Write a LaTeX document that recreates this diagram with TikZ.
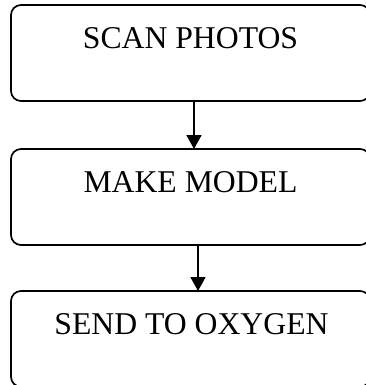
\documentclass[tikz,border=0pt]{standalone}
\usepackage{fontspec}
\setmainfont{Liberation Serif}
\usetikzlibrary{arrows.meta}
\begin{document}
\begin{tikzpicture}[x=1pt,y=-1pt,
  stepbox/.style={draw, line width=1.7pt, rounded corners=10pt, inner sep=0pt, outer sep=0pt,
    minimum width=359pt, minimum height=96pt},
  label text/.style={anchor=base, inner sep=0pt, font=\fontsize{31.7}{38}\selectfont},
  arr/.style={line width=1.7pt, -{Triangle[length=14pt,width=15pt]}}]
\useasboundingbox (0,0) rectangle (366,385);
\clip (0,0) rectangle (366,385);
\node[stepbox] (b1) at (190.5,53) {};
\node[stepbox] (b2) at (190.5,197) {};
\node[stepbox, minimum height=95.8pt] (b3) at (190.5,338.9) {};
\node[label text] (t1) at (190.5,48.3) {SCAN PHOTOS};
\node[label text] (t2) at (190.5,192.7) {MAKE MODEL};
\node[label text] (t3) at (191.5,334.3) {SEND TO OXYGEN};
\coordinate (x1) at (194,0);
\coordinate (x2) at (198,0);
\draw[arr] (b1.south -| x1) -- (b2.north -| x1);
\draw[arr] (b2.south -| x2) -- (b3.north -| x2);
\end{tikzpicture}
\end{document}
